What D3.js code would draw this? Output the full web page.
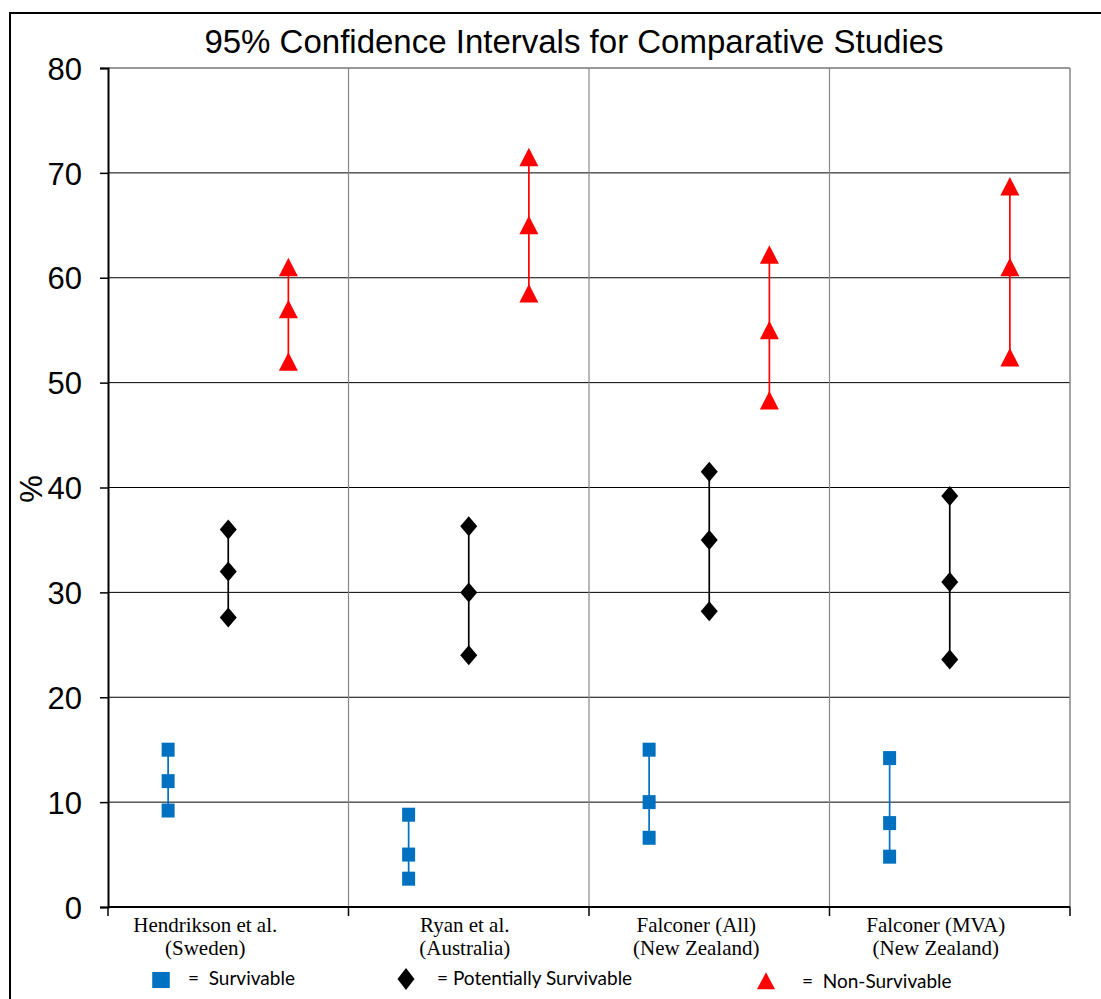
<!DOCTYPE html>
<html>
<head>
<meta charset="utf-8">
<title>95% Confidence Intervals</title>
<script src="https://d3js.org/d3.v7.min.js"></script>
<style>
body { margin: 0; background: #fff; }
svg { display: block; }
</style>
</head>
<body>
<svg id="chart" width="1101" height="999"></svg>
<script>
// studies along the x axis (two lines each)
const studies = ["Hendrikson", "Ryan", "FalconerAll", "FalconerMVA"];
const studyLabels = [
  ["Hendrikson et al.", "(Sweden)"],
  ["Ryan et al.", "(Australia)"],
  ["Falconer (All)", "(New Zealand)"],
  ["Falconer (MVA)", "(New Zealand)"]
];
const yTicks = [0, 10, 20, 30, 40, 50, 60, 70, 80];

// [low, point, high] for each study
const survivable = [[9.2, 12, 15], [2.7, 5, 8.8], [6.6, 10, 15], [4.8, 8, 14.2]];
const potentially = [[27.6, 32, 36], [24, 30, 36.3], [28.2, 35, 41.5], [23.6, 31, 39.2]];
const nonSurvivable = [[52, 57, 61], [58.5, 65, 71.5], [48.3, 55, 62.2], [52.4, 61, 68.7]];

const series = [
  { name: "=  Survivable", data: survivable, color: "#0070C0", shape: "square", offset: 0.25 },
  { name: "= Potentially Survivable", data: potentially, color: "#000000", shape: "diamond", offset: 0.5 },
  { name: "=  Non-Survivable", data: nonSurvivable, color: "#FF0000", shape: "triangle", offset: 0.75 }
];

const svg = d3.select("#chart");
const plotLeft = 108, plotRight = 1070, plotTop = 68, plotBottom = 907;

const x = d3.scaleBand().domain(studies).range([plotLeft, plotRight]).padding(0);
const y = d3.scaleLinear().domain([0, 80]).range([plotBottom, plotTop]);

// outer frame
svg.append("rect").attr("x", 10).attr("y", 13).attr("width", 1100).attr("height", 1000)
  .attr("fill", "none").attr("stroke", "#000").attr("stroke-width", 2);

// title
svg.append("text").attr("x", 574).attr("y", 53).attr("text-anchor", "middle")
  .style("font-family", "Liberation Sans, Arial, sans-serif").style("font-size", "33px")
  .text("95% Confidence Intervals for Comparative Studies");

// horizontal gridlines
svg.append("g").selectAll("line").data(yTicks.filter(d => d > 0 && d < 80)).join("line")
  .attr("x1", plotLeft).attr("x2", plotRight).attr("y1", d => y(d)).attr("y2", d => y(d))
  .attr("stroke", "#000").attr("stroke-width", 1);

// vertical category separators and plot border
svg.append("g").selectAll("line").data(studies.slice(1)).join("line")
  .attr("x1", d => x(d)).attr("x2", d => x(d)).attr("y1", plotTop).attr("y2", plotBottom)
  .attr("stroke", "#888").attr("stroke-width", 1.2);
svg.append("line").attr("x1", plotLeft).attr("x2", plotRight).attr("y1", plotTop).attr("y2", plotTop)
  .attr("stroke", "#777").attr("stroke-width", 1.5);
svg.append("line").attr("x1", plotRight).attr("x2", plotRight).attr("y1", plotTop).attr("y2", plotBottom)
  .attr("stroke", "#888").attr("stroke-width", 1.5);

// y axis
const yAxis = svg.append("g").attr("transform", `translate(${plotLeft},0)`)
  .call(d3.axisLeft(y).tickValues(yTicks).tickSize(8).tickPadding(18));
yAxis.select(".domain").attr("stroke", "#000").attr("stroke-width", 2);
yAxis.selectAll(".tick line").attr("stroke", "#000").attr("stroke-width", 1.5);
yAxis.selectAll(".tick text").style("font-family", "Liberation Sans, Arial, sans-serif")
  .style("font-size", "31px").attr("fill", "#000").attr("dy", "0.36em");

svg.append("text").attr("transform", "translate(42,489) rotate(-90)").attr("text-anchor", "middle")
  .style("font-family", "Liberation Sans, Arial, sans-serif").style("font-size", "31px").text("%");

// x axis line and ticks at the category boundaries
svg.append("line").attr("x1", plotLeft).attr("x2", plotRight).attr("y1", plotBottom).attr("y2", plotBottom)
  .attr("stroke", "#000").attr("stroke-width", 2);
const bounds = studies.map(d => x(d)).concat([plotRight]);
svg.append("g").selectAll("line").data(bounds).join("line")
  .attr("x1", d => d).attr("x2", d => d).attr("y1", plotBottom).attr("y2", plotBottom + 9)
  .attr("stroke", "#000").attr("stroke-width", 1.5);

// category labels (the labels sit a little left of the band centres)
const labelShift = [-23, -4, -13, -14];
const lbl = svg.append("g").selectAll("text").data(studies).join("text")
  .attr("text-anchor", "middle")
  .style("font-family", "Liberation Serif, Times New Roman, serif").style("font-size", "21px");
lbl.each(function(d, i) {
  const t = d3.select(this);
  studyLabels[i].forEach((line, j) => {
    t.append("tspan").attr("x", x(d) + x.bandwidth() / 2 + labelShift[i])
      .attr("y", 932 + j * 23).text(line);
  });
});

// marker paths
function markerPath(shape) {
  if (shape === "square") return "M-6.5,-7H6.5V7H-6.5Z";
  if (shape === "diamond") return "M0,-10L8.5,0L0,10L-8.5,0Z";
  return "M0,-9.5L9.5,9H-9.5Z";
}

series.forEach(s => {
  const g = svg.append("g");
  g.selectAll("line").data(s.data).join("line")
    .attr("x1", (d, i) => x(studies[i]) + x.bandwidth() * s.offset)
    .attr("x2", (d, i) => x(studies[i]) + x.bandwidth() * s.offset)
    .attr("y1", d => y(d[0])).attr("y2", d => y(d[2]))
    .attr("stroke", s.color).attr("stroke-width", 1.7);
  s.data.forEach((d, i) => {
    const cx = x(studies[i]) + x.bandwidth() * s.offset;
    d.forEach(v => {
      g.append("path").attr("d", markerPath(s.shape))
        .attr("transform", `translate(${cx},${y(v)})`).attr("fill", s.color);
    });
  });
});

// legend
const legendPos = [
  { mx: 161, my: 980, sx: 1.35, sy: 1.15, tx: 188, ty: 985 },
  { mx: 406, my: 979, sx: 1.0, sy: 1.1, tx: 437, ty: 985 },
  { mx: 766, my: 981, sx: 0.95, sy: 0.92, tx: 802, ty: 988 }
];
series.forEach((s, i) => {
  const p = legendPos[i];
  svg.append("path").attr("d", markerPath(s.shape))
    .attr("transform", `translate(${p.mx},${p.my}) scale(${p.sx},${p.sy})`)
    .attr("fill", s.color);
  svg.append("text").attr("x", p.tx).attr("y", p.ty)
    .style("font-family", "Lato, Open Sans, sans-serif").style("font-size", "19px")
    .style("white-space", "pre")
    .text(s.name);
});
</script>
</body>
</html>
